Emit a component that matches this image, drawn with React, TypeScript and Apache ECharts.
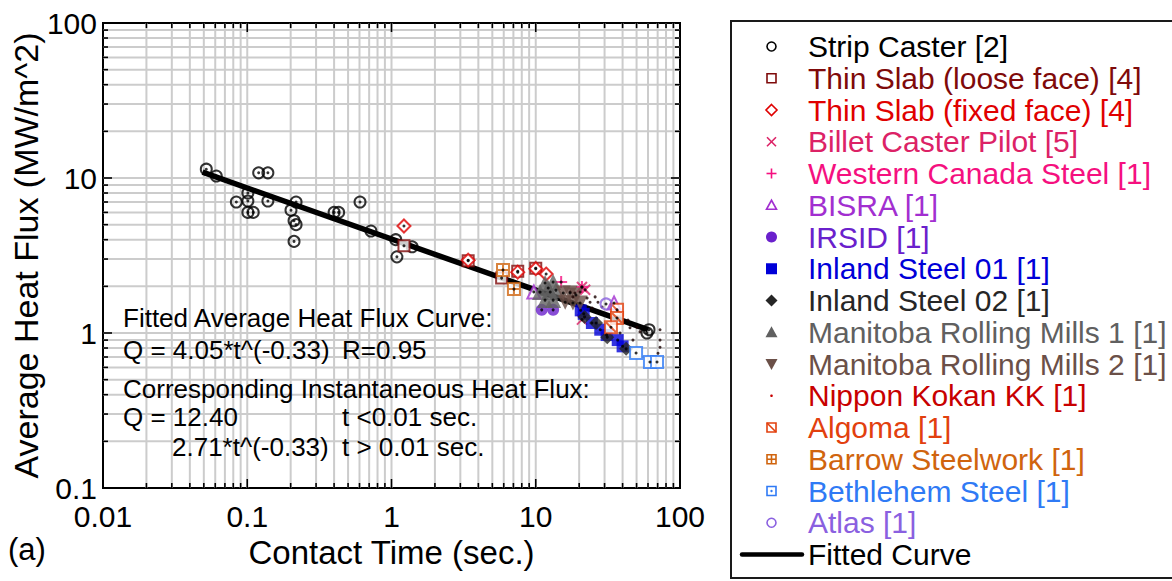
import React, { useEffect, useRef } from "react";
import * as echarts from "echarts";

// ---------- data ----------
const xTickLabels = ["0.01", "0.1", "1", "10", "100"];
const yTickLabels = ["0.1", "1", "10", "100"];

const stripCaster = [
  [0.052, 11.4], [0.061, 10.3], [0.12, 10.8], [0.139, 10.8], [0.101, 8.0], [0.084, 7.0],
  [0.101, 7.1], [0.139, 7.1], [0.101, 6.0], [0.11, 6.0], [0.218, 7.0], [0.201, 6.2],
  [0.211, 5.3], [0.218, 5.0], [0.211, 3.9], [0.4, 6.0], [0.43, 6.0], [0.605, 7.0],
  [0.72, 4.55], [1.07, 4.0], [1.39, 3.6], [1.09, 3.1], [59, 1.0], [61, 1.05],
];
const thinSlabLoose = [[1.22, 3.65], [3.4, 2.93], [5.8, 2.26], [7.5, 2.5], [10.0, 2.62]];
const thinSlabFixed = [[1.22, 4.9], [3.4, 2.95], [7.5, 2.47], [10.0, 2.6], [11.8, 2.4]];
const billetCaster = [[20.9, 1.98], [20.9, 1.22], [22.0, 1.9]];
const westernCanada = [[15.0, 2.13], [20.9, 1.98]];
const bisra = [[9.7, 1.84], [34.9, 1.56]];
const irsid = [[11.0, 1.41], [13.2, 1.41]];
const inland01 = [[20.5, 1.4], [21.5, 1.33], [24.5, 1.16], [28.0, 1.05], [31.0, 0.97], [37.0, 0.9], [40.0, 0.82]];
const inland02 = [[21.8, 1.27], [26.2, 1.16], [31.3, 0.94], [42.3, 0.79]];
const manitoba1 = [[11.6, 2.1], [13.2, 2.13], [10.7, 1.84], [12.6, 1.84], [13.8, 1.89], [11.6, 1.63], [13.2, 1.63], [12.2, 1.95]];
const manitoba2 = [[15.5, 1.81], [17.3, 1.81], [19.0, 1.76], [16.0, 1.58], [18.1, 1.56], [20.3, 1.56]];
const nipponKokan = [
  [17.3, 1.84], [18.7, 1.81], [20.3, 1.84], [18.1, 1.71], [22.7, 1.68], [23.8, 1.58], [25.8, 1.71],
  [27.0, 1.58], [28.8, 1.47], [24.6, 1.45], [38.4, 1.27], [43.6, 1.21], [45.0, 1.08], [50.3, 1.09],
  [52.8, 1.02], [72.7, 1.05], [72.7, 0.9], [72.7, 0.81], [70.4, 0.74], [47.2, 0.9], [38.4, 1.0],
];
const algoma = [[36.6, 1.41], [36.6, 1.25], [33.2, 1.09]];
const barrow = [[5.93, 2.55], [7.06, 1.92]];
const bethlehem = [[49.6, 0.743], [61.9, 0.65], [69.3, 0.65]];
const atlas = [[30.7, 1.54]];
const fittedCurve = [[0.049, 10.9], [60, 1.05]];

const seriesNames = [
  "Strip Caster [2]", "Thin Slab (loose face) [4]", "Thin Slab (fixed face) [4]",
  "Billet Caster Pilot [5]", "Western Canada Steel [1]", "BISRA [1]", "IRSID [1]",
  "Inland Steel 01 [1]", "Inland Steel 02 [1]", "Manitoba Rolling Mills 1 [1]",
  "Manitoba Rolling Mills 2 [1]", "Nippon Kokan KK [1]", "Algoma [1]",
  "Barrow Steelwork [1]", "Bethlehem Steel [1]", "Atlas [1]", "Fitted Curve",
];
const seriesData = [
  stripCaster, thinSlabLoose, thinSlabFixed, billetCaster, westernCanada, bisra, irsid,
  inland01, inland02, manitoba1, manitoba2, nipponKokan, algoma, barrow, bethlehem, atlas, fittedCurve,
];
const seriesColors = [
  "#000000", "#7f0a0a", "#e00000", "#dc2266", "#f5107f", "#a22fd0", "#6a20cc",
  "#0000d8", "#262626", "#606060", "#6b5048", "#c80000", "#e2400e",
  "#d0640e", "#2f7af5", "#8a60e0", "#000000",
];
const seriesKinds = [
  "circleOpen", "squareOpen", "diamondOpen", "cross", "plus", "triOpen", "circleFilled",
  "squareFilled", "diamondFilled", "triFilled", "triDownFilled", "dot", "squareDiag",
  "squarePlus", "squareDot", "circleOpen", "line",
];

const annotations = [
  { text: "Fitted Average Heat Flux Curve:", x: 123, y: 318 },
  { text: "Q = 4.05*t^(-0.33)", x: 123, y: 350 },
  { text: "R=0.95", x: 342, y: 350 },
  { text: "Corresponding Instantaneous Heat Flux:", x: 123, y: 389 },
  { text: "Q = 12.40", x: 123, y: 417 },
  { text: "t <0.01 sec.", x: 342, y: 417 },
  { text: "2.71*t^(-0.33)", x: 172, y: 447 },
  { text: "t > 0.01 sec.", x: 342, y: 447 },
];

// ---------- layout / style ----------
const FONT = "'Liberation Sans', Arial, Helvetica, sans-serif";
const X_MIN = 0.01, X_MAX = 100, Y_MIN = 0.1, Y_MAX = 100;
const GRID = { left: 103, top: 23, width: 577, height: 465 };

function gridValues(min: number, max: number) {
  const out: number[] = [];
  for (let d = min; d < max * 0.999; d *= 10) {
    for (let m = 1; m <= 9; m++) out.push(+(d * m).toPrecision(6));
  }
  out.push(max);
  return out;
}
const xGridValues = gridValues(X_MIN, X_MAX);
const yGridValues = gridValues(Y_MIN, Y_MAX);

const isMajor = (v: number) => Math.abs(Math.log10(v) - Math.round(Math.log10(v))) < 1e-6;

const symbolFor: Record<string, any> = {
  circleOpen: { symbol: "circle", size: 11, fill: "rgba(0,0,0,0)", stroke: true },
  squareOpen: { symbol: "rect", size: 11, fill: "#ffffff", stroke: true },
  diamondOpen: { symbol: "diamond", size: 13, fill: "#ffffff", stroke: true },
  cross: { symbol: "path://M0,0L10,10M10,0L0,10", size: 10, fill: "rgba(0,0,0,0)", stroke: true },
  plus: { symbol: "path://M5,0L5,10M0,5L10,5", size: 12, fill: "rgba(0,0,0,0)", stroke: true },
  triOpen: { symbol: "triangle", size: 13, fill: "#ffffff", stroke: true },
  circleFilled: { symbol: "circle", size: 12, fill: null, stroke: false },
  squareFilled: { symbol: "rect", size: 12, fill: null, stroke: false },
  diamondFilled: { symbol: "diamond", size: 14, fill: null, stroke: false },
  triFilled: { symbol: "triangle", size: 16, fill: null, stroke: false },
  triDownFilled: { symbol: "triangle", size: 15, fill: null, stroke: false, rotate: 180 },
  dot: { symbol: "circle", size: 3, fill: null, stroke: false, plotColor: "#1a0000" },
  squareDiag: { symbol: "path://M0,0H10V10H0ZM0,0L10,10", size: 12, fill: "#ffffff", stroke: true },
  squarePlus: { symbol: "path://M0,0H10V10H0ZM5,0V10M0,5H10", size: 12, fill: "#ffffff", stroke: true },
  squareDot: { symbol: "rect", size: 12, fill: "#ffffff", stroke: true },
};

function legendMarker(kind: string, cx: number, cy: number, color: string): any[] {
  const s = 4.5;
  const strokeStyle = { fill: "none", stroke: color, lineWidth: 1.6 };
  const fillStyle = { fill: color };
  const sq = (style: any) => ({ type: "rect", shape: { x: cx - s, y: cy - s, width: 2 * s, height: 2 * s }, style });
  switch (kind) {
    case "circleOpen": return [{ type: "circle", shape: { cx, cy, r: 4.5 }, style: strokeStyle }];
    case "squareOpen": return [sq(strokeStyle)];
    case "diamondOpen": return [{ type: "polygon", shape: { points: [[cx, cy - 5.5], [cx + 5.5, cy], [cx, cy + 5.5], [cx - 5.5, cy]] }, style: strokeStyle }];
    case "cross": return [
      { type: "line", shape: { x1: cx - 4.5, y1: cy - 4.5, x2: cx + 4.5, y2: cy + 4.5 }, style: strokeStyle },
      { type: "line", shape: { x1: cx + 4.5, y1: cy - 4.5, x2: cx - 4.5, y2: cy + 4.5 }, style: strokeStyle },
    ];
    case "plus": return [
      { type: "line", shape: { x1: cx - 5, y1: cy, x2: cx + 5, y2: cy }, style: strokeStyle },
      { type: "line", shape: { x1: cx, y1: cy - 5, x2: cx, y2: cy + 5 }, style: strokeStyle },
    ];
    case "triOpen": return [{ type: "polygon", shape: { points: [[cx, cy - 5], [cx + 5, cy + 4], [cx - 5, cy + 4]] }, style: strokeStyle }];
    case "circleFilled": return [{ type: "circle", shape: { cx, cy, r: 5.5 }, style: fillStyle }];
    case "squareFilled": return [{ type: "rect", shape: { x: cx - 5.5, y: cy - 5.5, width: 11, height: 11 }, style: fillStyle }];
    case "diamondFilled": return [{ type: "polygon", shape: { points: [[cx, cy - 6], [cx + 6, cy], [cx, cy + 6], [cx - 6, cy]] }, style: fillStyle }];
    case "triFilled": return [{ type: "polygon", shape: { points: [[cx, cy - 6], [cx + 6, cy + 5], [cx - 6, cy + 5]] }, style: fillStyle }];
    case "triDownFilled": return [{ type: "polygon", shape: { points: [[cx, cy + 6], [cx + 6, cy - 5], [cx - 6, cy - 5]] }, style: fillStyle }];
    case "dot": return [{ type: "circle", shape: { cx, cy, r: 1.3 }, style: fillStyle }];
    case "squareDiag": return [sq(strokeStyle), { type: "line", shape: { x1: cx - s, y1: cy - s, x2: cx + s, y2: cy + s }, style: strokeStyle }];
    case "squarePlus": return [
      sq(strokeStyle),
      { type: "line", shape: { x1: cx - s, y1: cy, x2: cx + s, y2: cy }, style: strokeStyle },
      { type: "line", shape: { x1: cx, y1: cy - s, x2: cx, y2: cy + s }, style: strokeStyle },
    ];
    case "squareDot": return [sq(strokeStyle), { type: "circle", shape: { cx, cy, r: 1.2 }, style: fillStyle }];
    case "line": return [{ type: "line", shape: { x1: 742, y1: cy, x2: 802, y2: cy }, style: { stroke: color, lineWidth: 4.5, lineCap: "round" } }];
  }
  return [];
}

function buildOption() {
  const series: any[] = [];

  // grid lines (major + minor) and inward ticks, placed through the axis scales
  series.push({
    type: "custom", silent: true, z: 1, clip: false,
    data: xGridValues.map((v) => [v, 1]),
    renderItem: (_p: any, api: any) => {
      const v = api.value(0);
      if (v <= X_MIN * 1.0001 || v >= X_MAX * 0.9999) return { type: "group", children: [] };
      const b = api.coord([v, Y_MIN]);
      const t = api.coord([v, Y_MAX]);
      const len = isMajor(v) ? 9 : 5;
      return {
        type: "group", children: [
          { type: "line", shape: { x1: b[0], y1: b[1], x2: t[0], y2: t[1] }, style: { stroke: "#cccccc", lineWidth: 2 } },
          { type: "line", z2: 5, shape: { x1: b[0], y1: b[1], x2: b[0], y2: b[1] - len }, style: { stroke: "#000", lineWidth: 1.6 } },
          { type: "line", z2: 5, shape: { x1: t[0], y1: t[1], x2: t[0], y2: t[1] + len }, style: { stroke: "#000", lineWidth: 1.6 } },
        ],
      };
    },
  });
  series.push({
    type: "custom", silent: true, z: 1, clip: false,
    data: yGridValues.map((v) => [1, v]),
    renderItem: (_p: any, api: any) => {
      const v = api.value(1);
      if (v <= Y_MIN * 1.0001 || v >= Y_MAX * 0.9999) return { type: "group", children: [] };
      const l = api.coord([X_MIN, v]);
      const r = api.coord([X_MAX, v]);
      const len = isMajor(v) ? 9 : 5;
      return {
        type: "group", children: [
          { type: "line", shape: { x1: l[0], y1: l[1], x2: r[0], y2: r[1] }, style: { stroke: "#cccccc", lineWidth: 2 } },
          { type: "line", z2: 5, shape: { x1: l[0], y1: l[1], x2: l[0] + len, y2: l[1] }, style: { stroke: "#000", lineWidth: 1.6 } },
          { type: "line", z2: 5, shape: { x1: r[0], y1: r[1], x2: r[0] - len, y2: r[1] }, style: { stroke: "#000", lineWidth: 1.6 } },
        ],
      };
    },
  });

  const centerDots: number[][] = [];
  seriesNames.forEach((name, i) => {
    const kind = seriesKinds[i];
    const color = seriesColors[i];
    if (kind === "line") {
      series.push({
        type: "line", name, data: seriesData[i], z: 3, symbol: "none", silent: true,
        lineStyle: { color, width: 5.5 }, emphasis: { disabled: true },
      });
      return;
    }
    const sym = symbolFor[kind];
    series.push({
      type: "scatter", name, data: seriesData[i], z: 4, silent: true,
      symbol: sym.symbol, symbolSize: sym.size, symbolRotate: sym.rotate || 0,
      itemStyle: sym.stroke
        ? { color: sym.fill, borderColor: color, borderWidth: 2 }
        : { color: sym.plotColor || color, borderWidth: 0 },
      emphasis: { disabled: true },
    });
    if (kind !== "dot") seriesData[i].forEach((p) => centerDots.push(p));
  });
  // the small black centre dot every marker carries
  series.push({
    type: "scatter", data: centerDots, z: 5, silent: true, symbol: "circle", symbolSize: 3,
    itemStyle: { color: "#000" }, emphasis: { disabled: true },
  });

  const graphics: any[] = [];
  annotations.forEach((a) => graphics.push({
    type: "text", x: a.x, y: a.y, z: 50,
    style: { text: a.text, fontSize: 26, fontFamily: FONT, fill: "#000", verticalAlign: "middle", align: "left" },
  }));
  graphics.push({
    type: "text", x: 8, y: 549, z: 50,
    style: { text: "(a)", fontSize: 31, fontFamily: FONT, fill: "#000", verticalAlign: "middle" },
  });
  // legend box
  graphics.push({
    type: "rect", z: 50, shape: { x: 731, y: 21, width: 470, height: 557 },
    style: { fill: "#fff", stroke: "#1a1a1a", lineWidth: 2 },
  });
  seriesNames.forEach((name, i) => {
    const cy = 46.5 + i * 31.75;
    legendMarker(seriesKinds[i], 771.5, cy, seriesColors[i]).forEach((m) => graphics.push({ ...m, z: 51 }));
    graphics.push({
      type: "text", x: 808, y: cy, z: 51,
      style: { text: name, fontSize: 30, fontFamily: FONT, fill: seriesColors[i], verticalAlign: "middle", align: "left" },
    });
  });

  const labelFmt = (labels: string[], minExp: number) => (v: number) => {
    const idx = Math.round(Math.log10(v)) - minExp;
    return labels[idx] ?? "";
  };

  return {
    animation: false,
    backgroundColor: "#ffffff",
    grid: { ...GRID, show: true, borderColor: "#000", borderWidth: 2, backgroundColor: "transparent" },
    xAxis: {
      type: "log", logBase: 10, min: X_MIN, max: X_MAX,
      axisLine: { show: false }, axisTick: { show: false }, splitLine: { show: false },
      axisLabel: { fontSize: 30, fontFamily: FONT, color: "#000", margin: 13, formatter: labelFmt(xTickLabels, -2) },
      name: "Contact Time (sec.)", nameLocation: "middle", nameGap: 45,
      nameTextStyle: { fontSize: 33, fontFamily: FONT, color: "#000" },
    },
    yAxis: {
      type: "log", logBase: 10, min: Y_MIN, max: Y_MAX,
      axisLine: { show: false }, axisTick: { show: false }, splitLine: { show: false },
      axisLabel: { fontSize: 30, fontFamily: FONT, color: "#000", margin: 6, formatter: labelFmt(yTickLabels, -1) },
      name: "Average Heat Flux (MW/m^2)", nameLocation: "middle", nameGap: 56,
      nameTextStyle: { fontSize: 34, fontFamily: FONT, color: "#000" },
    },
    series,
    graphic: graphics,
  };
}

export default function App() {
  const ref = useRef<HTMLDivElement>(null);
  useEffect(() => {
    if (!ref.current) return;
    const chart = echarts.init(ref.current, undefined, { renderer: "svg" });
    chart.setOption(buildOption() as any);
    return () => chart.dispose();
  }, []);
  return (
    <div
      ref={ref}
      style={{ position: "fixed", left: 0, top: 0, width: 1172, height: 581, background: "#fff" }}
    />
  );
}
